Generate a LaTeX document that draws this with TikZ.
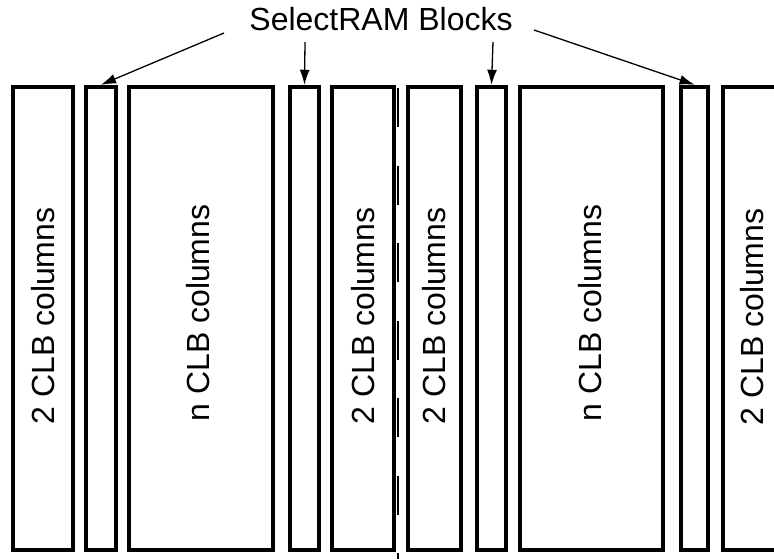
\documentclass[tikz,border=0pt]{standalone}
\usepackage{fontspec}
\setmainfont{Liberation Sans}
\usetikzlibrary{arrows.meta}
\begin{document}
\begin{tikzpicture}[x=1pt,y=-1pt,
  box/.style={draw=black,line width=4.5pt,inner sep=0pt,minimum height=463pt,fill=white},
  lbl/.style={rotate=90,inner sep=0pt,font=\fontsize{32}{38}\selectfont},
  ptr/.style={line width=1.3pt,-{Latex[length=15pt,width=10pt]}}]
\clip (0,0) rectangle (774,558);
\useasboundingbox (0,0) rectangle (774,558);
\fill[white] (0,0) rectangle (774,558);
% dashed divider
\coordinate (dtop) at (398,88);
\coordinate (dbot) at (398,570);
\draw[line width=1.5pt,dash pattern=on 39pt off 38.5pt] (dtop) -- (dbot);
% boxes
\node[box,minimum width=60pt] (b1) at (43,318.5) {};
\node[box,minimum width=30pt] (b2) at (101,318.5) {};
\node[box,minimum width=144pt] (b3) at (201,318.5) {};
\node[box,minimum width=29pt] (b4) at (304.5,318.5) {};
\node[box,minimum width=62pt] (b5) at (363,318.5) {};
\node[box,minimum width=53pt] (b6) at (434.5,318.5) {};
\node[box,minimum width=29pt] (b7) at (491.5,318.5) {};
\node[box,minimum width=143pt] (b8) at (591.5,318.5) {};
\node[box,minimum width=27pt] (b9) at (694.5,318.5) {};
\node[box,minimum width=77pt] (b10) at (761.5,318.5) {};
% labels
\node[lbl] (l1) at (43,316) {2 CLB columns};
\node[lbl] (l3) at (198,313) {n CLB columns};
\node[lbl] (l5) at (363,316) {2 CLB columns};
\node[lbl] (l6) at (434,316) {2 CLB columns};
\node[lbl] (l8) at (590,313) {n CLB columns};
\node[lbl] (l10) at (752,317) {2 CLB columns};
% title
\node[anchor=base,inner sep=0pt,font=\fontsize{32}{38}\selectfont] (title) at (381,30) {SelectRAM Blocks};
\coordinate (s1) at (224,33);
\coordinate (s2) at (305,42);
\coordinate (s3) at (493,42);
\coordinate (s4) at (534,30);
\draw[ptr] (s1) -- (b2.north);
\draw[ptr] (s2) -- (b4.north);
\draw[ptr] (s3) -- (b7.north);
\draw[ptr] (s4) -- (b9.north);
\end{tikzpicture}
\end{document}
